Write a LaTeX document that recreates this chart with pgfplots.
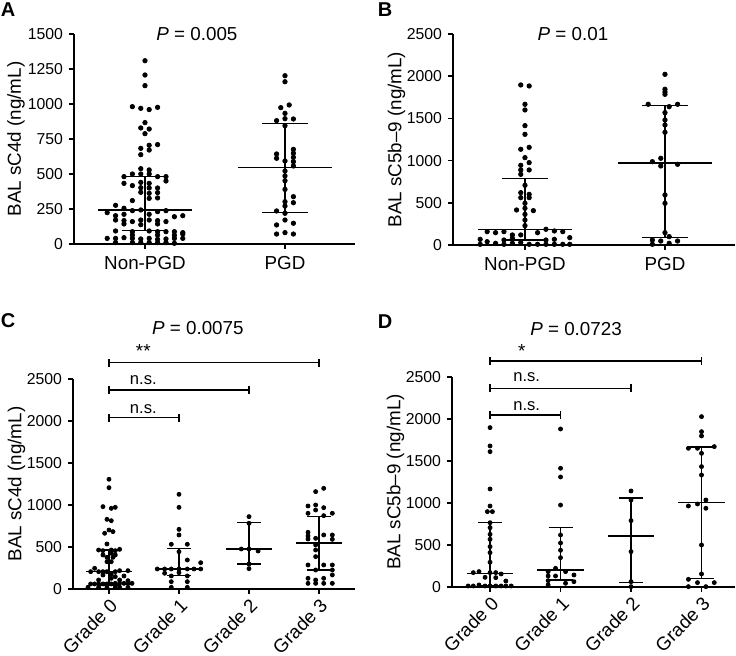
\documentclass[border=0pt]{standalone}
\usepackage{fontspec}
\setmainfont{Liberation Sans}
\usepackage{pgfplots}
\pgfplotsset{compat=1.18}

\newcommand\tickfont{\fontsize{7.9}{9}\selectfont}
\newcommand\labfont{\fontsize{9.4}{11}\selectfont}
\newcommand\nsfont{\fontsize{8.3}{10}\selectfont}

% bracket from group 0 to group #1 at height #2
\newcommand\brk[2]{%
  \draw[line width=0.75pt] (axis cs:0,#2) -- (axis cs:#1,#2);
  \draw[line width=0.75pt] ([yshift=-2pt]axis cs:0,#2) -- ([yshift=2pt]axis cs:0,#2);
  \draw[line width=0.75pt] ([yshift=-2pt]axis cs:#1,#2) -- ([yshift=2pt]axis cs:#1,#2);}

\pgfplotsset{
  dotplot/.style={
    scale only axis, anchor=south west,
    axis x line*=bottom, axis y line*=left,
    axis line style={-, line width=0.75pt},
    tick align=outside, major tick length=2.5pt,
    tick style={black, line width=0.75pt},
    ymin=0, clip=false, enlargelimits=false,
    unbounded coords=jump,
    yticklabel style={font=\tickfont, xshift=0.5pt},
    xticklabel style={font=\labfont},
    ylabel style={font=\labfont, anchor=center,
      at={(axis description cs:-0.2,0.5)}},
    /pgf/number format/assume math mode=true,
    /pgf/number format/1000 sep={},
  },
  dots/.style={only marks, mark=*, mark size=1.1pt, black},
  sumline/.style={black, line width=0.75pt, mark=none},
}

\begin{document}
\begin{tikzpicture}
\useasboundingbox (0pt,0pt) rectangle (368pt,328pt);

% ---------------- A ----------------
\begin{axis}[dotplot, at={(37pt,206pt)}, width=140.5pt, height=105pt,
  xmin=-0.507, xmax=1.5, ymax=1500, ytick={0,250,...,1500},
  xtick={0,1}, xticklabels={Non-PGD,PGD},
  ylabel={BAL sC4d (ng/mL)},
  ylabel style={at={(axis description cs:-0.206,0.5)}}]
\addplot[dots] coordinates {
(0,1309) (0,1207) (0,1131) (-0.09,981) (-0.03,969) (0.03,960) (0.09,976)
(0,867) (-0.03,829) (0.03,821) (0,788) (-0.03,683) (0.03,705) (0.09,710)
(0.03,671) (-0.03,638) (-0.03,538) (0.03,529) (-0.15,481) (-0.09,500)
(-0.03,500) (0.03,500) (0.09,481) (0.15,481) (-0.15,433) (-0.09,417)
(-0.03,440) (0.03,433) (0.15,450) (-0.03,402) (0.03,400) (0.09,400)
(-0.03,369) (0.03,362) (0.09,367) (0.03,326) (0.09,329) (-0.09,310)
(-0.21,276) (-0.15,255) (-0.27,224) (-0.21,202) (-0.15,212) (-0.09,238)
(-0.03,243) (0.03,212) (0.09,231) (0.15,238) (0.21,195) (0.27,202)
(-0.21,171) (-0.15,167) (-0.09,160) (-0.03,171) (0.03,171) (0.09,167)
(0.15,160) (-0.15,143) (-0.03,138) (0.09,143) (-0.21,93) (-0.09,88)
(0.03,93) (0.09,88) (0.15,88) (0.21,88) (0.27,81) (-0.09,64) (0.09,64)
(0.21,62) (0.27,71) (-0.27,40) (-0.21,40) (-0.15,45) (-0.09,40) (-0.03,36)
(0.03,40) (0.09,33) (0.15,36) (0.21,40) (0.27,40) (-0.21,10) (-0.09,10)
(-0.03,10) (0.03,10) (0.09,10) (0.15,10) (0.21,5)};
\addplot[dots] coordinates {
(1,1202) (1,1159) (0.97,974) (1.03,993) (1,933) (0.94,881) (1,895)
(1.06,893) (1,845) (0.94,643) (0.94,612) (1.06,676) (1.06,648) (1.06,619)
(1.06,588) (1.06,557) (1,593) (1,521) (1,486) (1,452) (1,390) (1.06,338)
(1.06,295) (1,302) (1,271) (0.94,236) (1,219) (1,171) (0.94,136)
(1.06,148) (0.94,71) (1,81) (1.06,71)};
\addplot[sumline] coordinates {(-0.336,243) (0.336,243) (0,nan)
(-0.166,481) (0.166,481) (0,nan) (-0.166,95) (0.166,95) (0,nan) (0,95) (0,481)};
\addplot[sumline] coordinates {(0.664,545) (1.336,545) (0,nan)
(0.834,862) (1.166,862) (0,nan) (0.834,226) (1.166,226) (0,nan) (1,226) (1,862)};
\node[font=\labfont] at (axis cs:0.371,1500) {\textit{P} = 0.005};
\end{axis}

% ---------------- B ----------------
\begin{axis}[dotplot, at={(226.5pt,205.5pt)}, width=141pt, height=105.5pt,
  xmin=-0.514, xmax=1.5, ymax=2500, ytick={0,500,...,2500},
  xtick={0,1}, xticklabels={Non-PGD,PGD},
  ylabel={BAL sC5b--9 (ng/mL)}]
\addplot[dots] coordinates {
(-0.03,1896) (0.03,1884) (0,1667) (0,1600) (0,1414) (0,1311) (-0.03,1134)
(0.03,1157) (0,1035) (0.03,976) (-0.03,944) (0.03,889) (-0.03,889)
(-0.03,837) (0,707) (-0.03,620) (0.03,600) (-0.03,561) (0.03,561) (0,494)
(-0.06,415) (0.06,407) (0,435) (0,363) (0,296) (0,229) (-0.27,158)
(-0.21,146) (-0.15,158) (-0.09,119) (-0.03,119) (0.09,146) (0.15,186)
(0.21,166) (0.27,158) (-0.32,67) (-0.15,59) (-0.09,79) (0.15,59) (0.21,67)
(0.32,87) (-0.27,39) (-0.21,20) (-0.09,20) (-0.03,28) (-0.32,8) (-0.15,8)
(0.03,8) (0.09,8) (0.15,8) (0.21,8) (0.27,8) (0.32,8)};
\addplot[dots] coordinates {
(1,2022) (1,1845) (1,1813) (1,1785) (0.88,1667) (1.03,1639) (1.09,1667)
(1,1568) (1,1481) (1,1422) (1,1335) (0.91,987) (0.97,1027) (0.97,936)
(1.09,956) (1,593) (1,494) (1,146) (0.91,59) (0.97,47) (1.03,99)
(1.09,47) (0.91,8) (1.03,20)};
\addplot[sumline] coordinates {(-0.336,182) (0.336,182) (0,nan)
(-0.166,786) (0.166,786) (0,nan) (-0.166,59) (0.166,59) (0,nan) (0,59) (0,786)};
\addplot[sumline] coordinates {(0.664,972) (1.336,972) (0,nan)
(0.834,1651) (1.166,1651) (0,nan) (0.834,87) (1.166,87) (0,nan) (1,87) (1,1651)};
\node[font=\labfont] at (axis cs:0.343,2500) {\textit{P} = 0.01};
\end{axis}

% ---------------- C ----------------
\begin{axis}[dotplot, at={(36.5pt,33.5pt)}, width=141pt, height=105pt,
  xmin=-0.514, xmax=3.514, ymax=2500, ytick={0,500,...,2500},
  xtick={0,1,2,3}, xticklabels={Grade 0,Grade 1,Grade 2,Grade 3},
  xticklabel style={rotate=45, anchor=north east, inner sep=1pt},
  ylabel={BAL sC4d (ng/mL)}]
\addplot[dots, mark size=1pt] coordinates {
(0,1306) (0,1206) (-0.086,980) (0.033,960) (0.09,972) (-0.029,829)
(0.033,813) (-0.062,663) (0,702) (0.057,683) (-0.029,536) (-0.148,464)
(-0.086,456) (0.033,464) (0.09,456) (0.152,472) (-0.086,405) (0.033,425)
(0.09,405) (-0.029,377) (0.057,377) (-0.029,325) (0.033,325) (-0.205,246)
(-0.262,206) (-0.148,206) (-0.086,206) (-0.029,206) (0.09,206) (0.152,218)
(0.271,218) (-0.086,167) (0.033,179) (0.09,147) (0.214,155) (-0.148,107)
(0.033,127) (0.152,107) (0.271,99) (-0.262,60) (-0.205,60) (-0.148,60)
(-0.086,60) (-0.029,60) (0.033,60) (0.09,67) (0.152,67) (0.214,67)
(0.271,67) (0.329,67) (-0.3,20) (-0.148,20) (-0.029,20) (0.09,20)
(0.152,20) (0.271,20)};
\addplot[dots, mark size=1pt] coordinates {
(1,1127) (1,972) (1,710) (1,643) (0.89,532) (1.119,532) (1,444)
(1.119,345) (1.31,313) (0.69,238) (0.795,238) (0.89,238) (1,238)
(1.119,238) (1.214,238) (1.31,238) (0.795,187) (1,194) (0.89,155)
(1.119,155) (0.89,87) (1.119,87) (0.89,20) (1.119,20)};
\addplot[dots, mark size=1pt] coordinates {
(2,861) (2,782) (1.89,476) (2,476) (2.13,452) (2,298) (2,242)};
\addplot[dots, mark size=1pt] coordinates {
(2.952,1159) (3.067,1198) (2.843,988) (2.952,1000) (3.067,968) (2.952,940)
(2.843,901) (3.067,873) (3.19,901) (2.843,675) (2.843,631) (3.19,643)
(3.19,591) (3.067,643) (2.843,595) (2.952,603) (2.952,524) (2.952,464)
(2.952,385) (2.843,286) (3.067,286) (3.19,286) (3.19,226) (2.952,226)
(2.843,127) (2.952,107) (3.067,127) (3.19,167) (2.843,67) (2.952,67)
(3.067,67) (3.19,67)};
\addplot[sumline] coordinates {(-0.33,206) (0.33,206) (0,nan)
(-0.17,464) (0.17,464) (0,nan) (-0.17,50) (0.17,50) (0,nan) (0,50) (0,464)};
\addplot[sumline] coordinates {(0.67,238) (1.33,238) (0,nan)
(0.83,484) (1.17,484) (0,nan) (0.83,159) (1.17,159) (0,nan) (1,159) (1,484)};
\addplot[sumline] coordinates {(1.67,476) (2.33,476) (0,nan)
(1.83,790) (2.17,790) (0,nan) (1.83,298) (2.17,298) (0,nan) (2,298) (2,790)};
\addplot[sumline] coordinates {(2.67,545) (3.33,545) (0,nan)
(2.83,862) (3.17,862) (0,nan) (2.83,226) (3.17,226) (0,nan) (3,226) (3,862)};
\brk{3}{2694}
\brk{2}{2369}
\brk{1}{2040}
\node[font=\labfont] at (axis cs:0.49,2837) {**};
\node[font=\nsfont] at (axis cs:0.49,2488) {n.s.};
\node[font=\nsfont] at (axis cs:0.49,2143) {n.s.};
\node[font=\labfont] at (axis cs:1.27,3107) {\textit{P} = 0.0075};
\end{axis}

% ---------------- D ----------------
\begin{axis}[dotplot, at={(226pt,34.5pt)}, width=141.5pt, height=105pt,
  xmin=-0.54, xmax=3.475, ymax=2500, ytick={0,500,...,2500},
  xtick={0,1,2,3}, xticklabels={Grade 0,Grade 1,Grade 2,Grade 3},
  xticklabel style={rotate=45, anchor=north east, inner sep=1pt},
  ylabel={BAL sC5b--9 (ng/mL)}]
\addplot[dots, mark size=1pt] coordinates {
(0,1897) (0,1679) (0,1611) (0,1167) (0,964) (-0.038,897) (0.033,897)
(0,765) (0,706) (0,627) (0,568) (0,480) (0,409) (0,294) (-0.238,171)
(-0.157,183) (0,171) (0.081,171) (0.157,155) (-0.071,115) (0.081,111)
(0.224,71) (-0.31,12) (-0.238,12) (-0.157,24) (-0.071,12) (0,12)
(0.081,12) (0.157,12) (0.224,12) (0.3,12)};
\addplot[dots, mark size=1pt] coordinates {
(1,1881) (1,1413) (1,1310) (1,975) (1,619) (1,524) (1,437) (1,349)
(0.929,222) (0.824,183) (1.071,183) (0.824,131) (0.929,131) (1.19,143)
(0.824,75) (1.19,63) (1.071,44) (0.824,24)};
\addplot[dots, mark size=1pt] coordinates {
(2,1143) (2,1036) (2,790) (2,421) (2,63) (2,4)};
\addplot[dots, mark size=1pt] coordinates {
(3,2028) (3,1849) (3,1798) (2.814,1651) (2.943,1651) (3.181,1671)
(3,1591) (3,1433) (3,1333) (2.814,964) (2.943,988) (3.062,1036)
(3.062,937) (3,500) (3,155) (2.814,91) (2.943,52) (3.181,52) (2.814,4)
(3.062,4)};
\addplot[sumline] coordinates {(-0.33,163) (0.33,163) (0,nan)
(-0.17,765) (0.17,765) (0,nan) (-0.17,12) (0.17,12) (0,nan) (0,12) (0,765)};
\addplot[sumline] coordinates {(0.67,205) (1.33,205) (0,nan)
(0.83,706) (1.17,706) (0,nan) (0.83,83) (1.17,83) (0,nan) (1,83) (1,706)};
\addplot[sumline] coordinates {(1.67,605) (2.33,605) (0,nan)
(1.83,1060) (2.17,1060) (0,nan) (1.83,52) (2.17,52) (0,nan) (2,52) (2,1060)};
\addplot[sumline] coordinates {(2.67,1008) (3.33,1008) (0,nan)
(2.83,1665) (3.17,1665) (0,nan) (2.83,103) (3.17,103) (0,nan) (3,103) (3,1665)};
\brk{3}{2690}
\brk{2}{2365}
\brk{1}{2048}
\node[font=\labfont] at (axis cs:0.45,2813) {*};
\node[font=\nsfont] at (axis cs:0.52,2496) {n.s.};
\node[font=\nsfont] at (axis cs:0.52,2155) {n.s.};
\node[font=\labfont] at (axis cs:1.22,3071) {\textit{P} = 0.0723};
\end{axis}

% panel letters
\node[font=\fontsize{10}{12}\bfseries\selectfont] at (4pt,323pt) {A};
\node[font=\fontsize{10}{12}\bfseries\selectfont] at (192.5pt,323pt) {B};
\node[font=\fontsize{10}{12}\bfseries\selectfont] at (4pt,167.5pt) {C};
\node[font=\fontsize{10}{12}\bfseries\selectfont] at (192.5pt,167pt) {D};
\end{tikzpicture}
\end{document}
